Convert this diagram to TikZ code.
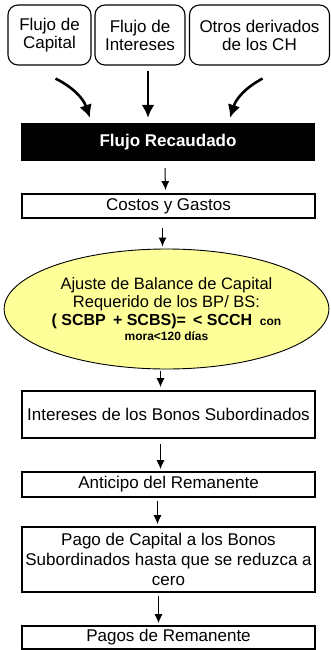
\documentclass[tikz,border=0pt]{standalone}
\usepackage{fontspec}
\setmainfont{Liberation Sans}
\usepackage{tikz}
\usetikzlibrary{calc,shapes.geometric,arrows.meta}
\definecolor{elipse}{HTML}{FFFF99}
\tikzstyle{fuente} = [rectangle, draw, rounded corners=10pt, line width=1.1pt, align=center, font=\fontsize{17}{18}\selectfont, inner sep=0pt, minimum height=60pt]
\tikzstyle{paso} = [rectangle, draw, line width=1.8pt, align=center, font=\fontsize{17}{20}\selectfont, inner sep=0pt, minimum width=293pt]
\tikzstyle{ajuste} = [ellipse, draw, fill=elipse, line width=0.9pt, align=center, inner sep=0pt, minimum width=297pt, minimum height=120pt, font=\fontsize{16.5}{18}\selectfont]
\tikzstyle{grueso} = [line width=2.6pt, -{Latex[length=13pt,width=13pt]}]
\tikzstyle{flecha} = [line width=1pt, -{Latex[length=9pt,width=8pt]}]

\begin{document}
\begin{tikzpicture}[x=1pt, y=-1pt]
    \useasboundingbox (0,0) rectangle (331,650);
    % fuentes del flujo
    \node[fuente, minimum width=83pt] (cap) at (49.5,35) {Flujo de\\Capital};
    \node[fuente, minimum width=90pt] (int) at (140,35) {Flujo de\\Intereses};
    \node[fuente, minimum width=140pt] (otr) at (259.5,35) {Otros derivados\\de los CH};
    \node[rectangle, fill=black, text=white, font=\fontsize{17}{20}\selectfont\bfseries, minimum width=294pt, minimum height=38pt] (rec) at (168,142) {Flujo Recaudado};
    \draw[grueso] ($(cap.south)+(6,13)$) to[bend left=22] ($(rec.north)+(-78,-5)$);
    \draw[grueso] ($(int.south)+(8,5)$) -- ($(rec.north)+(-20,-5)$);
    \draw[grueso] ($(otr.south)+(3,13)$) to[bend right=22] ($(rec.north)+(62,-5)$);
    % cascada de pagos
    \node[paso, minimum height=24pt] (cos) at (168.5,206) {Costos y Gastos};
    \node[ajuste] (aju) at (166.5,309) {Ajuste de Balance de Capital\\
        Requerido de los BP/ BS:\\
        {\fontsize{16}{18}\selectfont\bfseries ( SCBP\, + SCBS)=\, < SCCH {\fontsize{12}{18}\selectfont\ con}}\\[-3pt]
        {\fontsize{12}{18}\selectfont\bfseries mora<120 días}};
    \node[paso, minimum height=47pt] (ibs) at (168.5,414.5) {Intereses de los Bonos Subordinados};
    \node[paso, minimum height=25pt] (ant) at (168.5,484.5) {Anticipo del Remanente};
    \node[paso, minimum height=65pt] (pag) at (168.5,559.5) {Pago de Capital a los Bonos\\Subordinados hasta que se reduzca a\\cero};
    \node[paso, minimum height=23pt] (prm) at (168.5,637.5) {Pagos de Remanente};
    \draw[flecha] ($(rec.south)+(-3,7)$) -- ($(cos.north)+(-3,-3)$);
    \draw[flecha] ($(cos.south)+(-6,9)$) -- ($(aju.north)+(-4,-2)$);
    \draw[flecha] ($(aju.south)+(-6,2)$) -- ($(ibs.north)+(-8,-3)$);
    \draw[flecha] ($(ibs.south)+(-8,5)$) -- ($(ant.north)+(-8,-2)$);
    \draw[flecha] ($(ant.south)+(-11,3)$) -- ($(pag.north)+(-11,-2)$);
    \draw[flecha] ($(pag.south)+(-10,3)$) -- ($(prm.north)+(-10,-2)$);
\end{tikzpicture}
\end{document}
